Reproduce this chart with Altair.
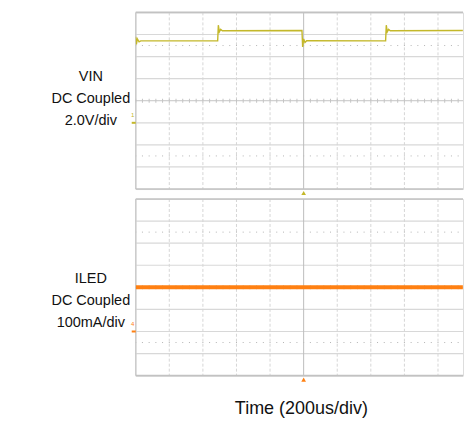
import altair as alt
import pandas as pd

# ---- data (time and levels in scope divisions) ----
vin_t = [-5.0, -4.98, -4.95, -4.90, -4.85, -2.56, -2.54, -2.51, -2.47, -2.42, -0.05,
         -0.03, 0.00, 0.04, 0.09, 2.44, 2.46, 2.49, 2.53, 2.58, 4.74]
vin_v = [2.90, 2.55, 2.80, 2.67, 2.71, 2.71, 3.42, 3.12, 3.23, 3.17, 3.18,
         2.44, 2.80, 2.64, 2.72, 2.71, 3.42, 3.12, 3.23, 3.17, 3.18]
iled_t = [-5.0, 4.74]
iled_v = [0.0, 0.0]

vin_ground = [-1.0]
iled_ground = [-2.0]
trigger_t = [0.0]

x_minor = [-4, -3, -2, -1, 1, 2, 3, 4]
y_minor = [-3, -2, -1, 1, 2, 3]
y_marks = [-2.5, 2.5]
border_y = [-4, 4]

vin_label = "VIN\nDC Coupled\n2.0V/div"
iled_label = "ILED\nDC Coupled\n100mA/div"
x_title = "Time (200us/div)"

VIN_COLOR = "#C4B82A"
ILED_COLOR = "#FF8012"

W = 328
H = 177
DIV_PX = 33.66
X_MAX = -5 + W / DIV_PX

xs = alt.Scale(domain=[-5, X_MAX], nice=False, zero=False)
ys = alt.Scale(domain=[-4, 4], nice=False, zero=False)
FONT = "Liberation Sans"


def panel(t, v, color, lw, ground, gchar, label, label_y, anchor=False, xtitle=False):
    trace = pd.DataFrame({"t": t, "v": v})
    layers = []
    layers.append(alt.Chart(pd.DataFrame({"y": y_minor})).mark_rule(
        color="#D8D8D8", strokeWidth=1.2).encode(
        y=alt.Y("y:Q", scale=ys, axis=None), x=alt.value(0), x2=alt.value(W)))
    layers.append(alt.Chart(pd.DataFrame({"x": x_minor})).mark_rule(
        color="#D6D6D6", strokeWidth=1, strokeDash=[3, 2]).encode(
        x=alt.X("x:Q", scale=xs, axis=None), y=alt.value(0), y2=alt.value(H)))
    layers.append(alt.Chart(pd.DataFrame({"y": y_marks})).mark_rule(
        color="#B4B4B4", strokeWidth=1, strokeDash=[1, DIV_PX * 0.2 - 1],
        strokeDashOffset=0.5).encode(
        y=alt.Y("y:Q", scale=ys), x=alt.value(0), x2=alt.value(W)))
    layers.append(alt.Chart(pd.DataFrame({"x": trigger_t})).mark_rule(
        color="#BDBDBD", strokeWidth=1).encode(
        x=alt.X("x:Q", scale=xs), y=alt.value(0), y2=alt.value(H)))
    layers.append(alt.Chart(pd.DataFrame({"y": [0]})).mark_rule(
        color="#C4C4C4", strokeWidth=1).encode(
        y=alt.Y("y:Q", scale=ys), x=alt.value(0), x2=alt.value(W)))
    layers.append(alt.Chart(pd.DataFrame({"y": [0]})).mark_rule(
        color="#C4C4C4", strokeWidth=4, strokeDash=[1, DIV_PX * 0.2 - 1],
        strokeDashOffset=0.5).encode(
        y=alt.Y("y:Q", scale=ys), x=alt.value(0), x2=alt.value(W)))
    layers.append(alt.Chart(pd.DataFrame({"y": border_y})).mark_rule(
        color="#C2C2C2", strokeWidth=1.6).encode(
        y=alt.Y("y:Q", scale=ys), x=alt.value(0), x2=alt.value(W)))
    layers.append(alt.Chart(pd.DataFrame({"x": [-5]})).mark_rule(
        color="#C2C2C2", strokeWidth=1).encode(
        x=alt.X("x:Q", scale=xs), y=alt.value(0), y2=alt.value(H)))
    layers.append(alt.Chart(trace).mark_line(
        color=color, strokeWidth=lw, clip=True, interpolate="linear").encode(
        x=alt.X("t:Q", scale=xs), y=alt.Y("v:Q", scale=ys)))
    gdf = pd.DataFrame({"g": ground, "c": [gchar]})
    layers.append(alt.Chart(gdf).mark_rule(color=color, strokeWidth=2).encode(
        y=alt.Y("g:Q", scale=ys), x=alt.value(-4), x2=alt.value(0)))
    layers.append(alt.Chart(gdf).mark_text(
        color=color, fontSize=6, font=FONT, dy=-8, align="center").encode(
        y=alt.Y("g:Q", scale=ys), x=alt.value(-3), text="c:N"))
    layers.append(alt.Chart(pd.DataFrame({"x": trigger_t})).mark_point(
        shape="triangle-up", filled=True, color=color, size=22, opacity=1).encode(
        x=alt.X("x:Q", scale=xs), y=alt.value(H + 4)))
    layers.append(alt.Chart(pd.DataFrame({"l": [label]})).mark_text(
        font=FONT, fontSize=14.5, color="#111111", lineBreak="\n", lineHeight=22,
        align="center", baseline="middle").encode(
        x=alt.value(-45), y=alt.value(label_y), text="l:N"))
    if anchor:
        layers.append(alt.Chart(pd.DataFrame({"a": [0]})).mark_rule(
            color="white", strokeWidth=0).encode(
            x=alt.value(-135), x2=alt.value(-130), y=alt.value(-11)))
    if xtitle:
        layers.append(alt.Chart(pd.DataFrame({"l": [x_title]})).mark_text(
            font=FONT, fontSize=18, color="#111111", align="center",
            baseline="middle").encode(
            x=alt.value(166), y=alt.value(H + 33), text="l:N"))
    return alt.layer(*layers).properties(width=W, height=H)


top = panel(vin_t, vin_v, VIN_COLOR, 1.4, vin_ground, "1", vin_label, 65, anchor=True)
bottom = panel(iled_t, iled_v, ILED_COLOR, 4, iled_ground, "4", iled_label, 80, xtitle=True)

chart = alt.vconcat(top, bottom, spacing=10, bounds="flush").properties(
    padding=0
).configure_view(stroke=None).configure(background="white")

chart.save("out.html", embed_options={"renderer": "svg", "actions": False})
